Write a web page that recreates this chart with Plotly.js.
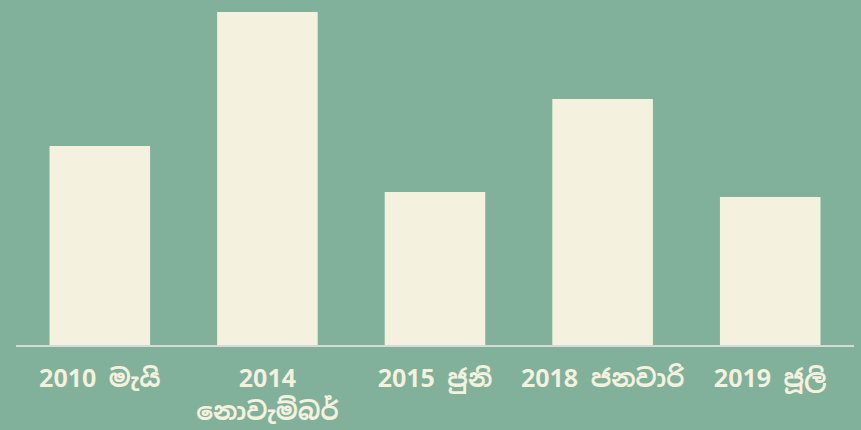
<!DOCTYPE html>
<html>
<head>
<meta charset="utf-8">
<script src="https://cdn.plot.ly/plotly-3.0.1.min.js"></script>
<style>html,body{margin:0;padding:0;background:#81b09b;}#chart{width:861px;height:430px;}</style>
</head>
<body>
<div id="chart"></div>
<script>
const categories = ["2010 මැයි", "2014<br>නොවැම්බර්", "2015 ජුනි", "2018 ජනවාරි", "2019 ජූලි"];
const values = [199, 333, 153, 246, 148];

const trace = {
  type: "bar",
  x: categories,
  y: values,
  marker: {color: "#f4f1de"},
  hoverinfo: "none"
};
const layout = {
  width: 861, height: 430,
  paper_bgcolor: "#81b09b",
  plot_bgcolor: "#81b09b",
  margin: {l: 16, r: 7, t: 0, b: 85},
  bargap: 0.4,
  showlegend: false,
  font: {family: "Noto Sans Sinhala, Noto Sans, sans-serif", color: "#f4f1de"},
  xaxis: {
    showline: true, linecolor: "#d9d9d9", linewidth: 2,
    showgrid: false, zeroline: false, ticks: "",
    ticklabelstandoff: 10,
    tickfont: {family: "Noto Sans Sinhala, Noto Sans, sans-serif", size: 25, weight: "bold", color: "#f4f1de"},
    fixedrange: true
  },
  yaxis: {
    range: [0, 345], visible: false, showgrid: false, zeroline: false, fixedrange: true
  }
};
Plotly.newPlot("chart", [trace], layout, {displayModeBar: false, staticPlot: true});
</script>
</body>
</html>
